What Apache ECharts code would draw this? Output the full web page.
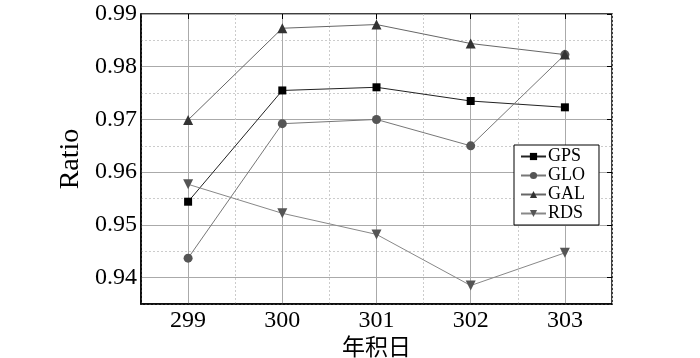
<!DOCTYPE html>
<html>
<head>
    <meta charset="utf-8">
    <title>Ratio</title>
    <script src="https://cdn.jsdelivr.net/npm/echarts@6/dist/echarts.min.js"></script>
</head>
<body style="margin:0;">
<div id="main" style="width: 700px;height:358px;"></div>
<script type="text/javascript">
    var days = [299, 300, 301, 302, 303];
    var gps = [0.9544, 0.9755, 0.9761, 0.9735, 0.9723];
    var glo = [0.9437, 0.9692, 0.9700, 0.9650, 0.9823];
    var gal = [0.9699, 0.9873, 0.9880, 0.9844, 0.9823];
    var rds = [0.9577, 0.9522, 0.9482, 0.9385, 0.9447];
    var xMajor = [299, 300, 301, 302, 303];
    var yMajor = [0.94, 0.95, 0.96, 0.97, 0.98, 0.99];

    var serif = '"Liberation Serif", "Times New Roman", serif';

    function pairs(vals) {
        return days.map(function (d, i) { return [d, vals[i]]; });
    }

    function line(name, vals, lineColor, symColor, symbol, size) {
        return {
            name: name,
            type: 'line',
            data: pairs(vals),
            symbol: symbol,
            symbolSize: size,
            lineStyle: { color: lineColor, width: 1 },
            itemStyle: { color: symColor },
            z: 5
        };
    }

    var myChart = echarts.init(document.getElementById('main'));

    var option = {
        backgroundColor: '#fff',
        animation: false,
        grid: {
            left: 141, right: 88, top: 14, bottom: 54,
            outerBoundsMode: 'none',
            show: true, borderColor: '#000', borderWidth: 1.5
        },
        xAxis: [
            {
                type: 'value', position: 'bottom',
                min: 298.5, max: 303.5, interval: 0.5,
                name: '年积日', nameLocation: 'middle', nameGap: 42, nameMoveOverlap: false,
                nameTextStyle: { fontFamily: '"Noto Sans CJK SC"', fontSize: 23, color: '#000', verticalAlign: 'middle' },
                axisLine: { lineStyle: { color: '#000', width: 1.5 } },
                axisTick: { show: false },
                axisLabel: {
                    fontFamily: serif, fontSize: 24, color: '#000', margin: 5,
                    formatter: function (v) { return Math.abs(v - Math.round(v)) < 1e-6 ? String(Math.round(v)) : ''; }
                },
                splitLine: { show: true, lineStyle: { color: '#ccc', type: [2, 2], width: 1 } }
            },
            {
                type: 'value', position: 'top',
                min: 298.5, max: 303.5,
                axisLine: { show: false },
                axisTick: { show: true, inside: true, length: 5, customValues: xMajor, lineStyle: { color: '#000' } },
                axisLabel: { show: false, customValues: xMajor },
                splitLine: { show: true, lineStyle: { color: '#aaa', width: 1 } }
            }
        ],
        yAxis: [
            {
                type: 'value', position: 'left',
                min: 0.935, max: 0.99, interval: 0.005,
                name: 'Ratio', nameLocation: 'middle', nameGap: 56, nameRotate: 90, nameMoveOverlap: false,
                nameTextStyle: { fontFamily: serif, fontSize: 28, color: '#000' },
                axisLine: { show: true, lineStyle: { color: '#000', width: 1.5 } },
                axisTick: { show: false },
                axisLabel: {
                    fontFamily: serif, fontSize: 24, color: '#000', margin: 4,
                    formatter: function (v) {
                        var k = Math.round(v * 1000);
                        return k % 10 === 0 ? (k / 1000).toFixed(2) : '';
                    }
                },
                splitLine: { show: true, lineStyle: { color: '#ccc', type: [2, 2], width: 1 } }
            },
            {
                type: 'value', position: 'right',
                min: 0.935, max: 0.99,
                axisLine: { show: false },
                axisTick: { show: true, inside: true, length: 5, customValues: yMajor, lineStyle: { color: '#000' } },
                axisLabel: { show: false, customValues: yMajor },
                splitLine: { show: true, lineStyle: { color: '#aaa', width: 1 } }
            }
        ],
        legend: {
            orient: 'vertical',
            left: 514, top: 145,
            backgroundColor: '#fff',
            borderColor: '#000', borderWidth: 1,
            padding: [2, 14, 2, 6],
            itemGap: 0,
            itemWidth: 25, itemHeight: 9,
            textStyle: { fontFamily: serif, fontSize: 18, color: '#000', lineHeight: 19, padding: [0, 0, 0, -3] },
            data: ['GPS', 'GLO', 'GAL', 'RDS']
        },
        series: [
            line('GPS', gps, '#222', '#000', 'rect', 8),
            line('GLO', glo, '#777', '#555', 'circle', 9),
            line('GAL', gal, '#666', '#333', 'triangle', 10),
            line('RDS', rds, '#888', '#555', 'path://M0,0 L10,0 L5,9 Z', 10)
        ]
    };

    myChart.setOption(option);
</script>
</body>
</html>
